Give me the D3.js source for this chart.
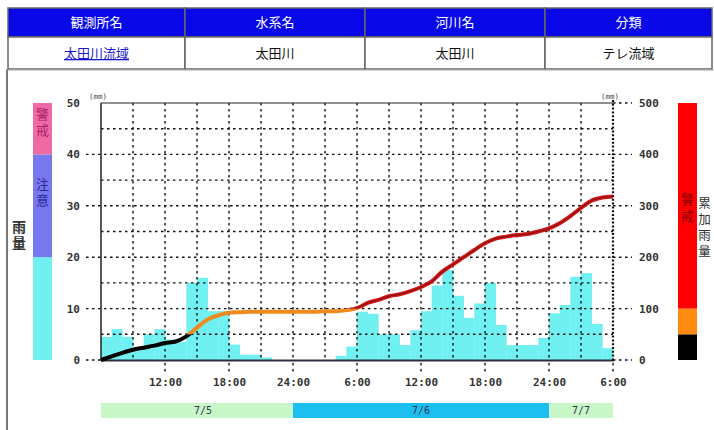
<!DOCTYPE html>
<html><head><meta charset="utf-8">
<script src="https://cdn.jsdelivr.net/npm/d3@7"></script>
<style>body{margin:0;background:#fff}svg{display:block}</style>
</head><body>
<svg id="c" width="714" height="430"></svg>
<script>
// ---- data ----
const headers = ["観測所名","水系名","河川名","分類"];
const rowValues = ["太田川流域","太田川","太田川","テレ流域"];
// hourly rainfall (mm), 7/5 6:00 -> 7/7 6:00
const rain = [4.5,6,4.5,2,5,6,4,3.5,15,16,9.5,9.5,3,1,1,0.5,0,0,0,0,0,0,0.8,2.6,
  9.4,9,5,5,2.9,5.8,9.5,14.5,17.5,12.5,8.2,11,15,6.8,2.9,2.9,2.9,4.3,9.1,10.7,16.2,16.9,7,2.3];
// cumulative rainfall (mm) read at each hour mark
const cumulative = [0,7,14,20,24,28,33,36,46,63,79,87,92,93,94,94,94,94,94,94,94,95,95,97,101,111,117,124,128,134,
  142,153,172,186,200,214,227,236,240,243,245,250,256,266,280,296,310,316,318];
const timeTickHours = [6,12,18,24,30,36,42,48];
const timeTickLabels = ["12:00","18:00","24:00","6:00","12:00","18:00","24:00","6:00"];
const dateLabels = ["7/5","7/6","7/7"];
const dateStartHour = [0,18,42];
const dateEndHour = [18,42,48];
const leftTicks = [0,10,20,30,40,50];
const rightTicks = [0,100,200,300,400,500];
const leftBandBreaks = [0,20,40,50];
const leftBandLabels = ["","注意","警戒"];
const rightBandBreaks = [0,50,100,500];
const rightBandLabels = ["","","警戒"];

// ---- styles ----
const JP = "'Noto Sans CJK JP','Noto Sans',sans-serif";
const NUM = "'DejaVu Sans Mono',monospace";
const leftBandColors = ["#70f0f0","#7777ee","#ee6aa4"];
const leftBandText = ["#333","#2a2a99","#aa2266"];
const rightBandColors = ["#000000","#ff8a10","#ff0000"];
const rightBandText = ["#fff","#fff","#8a0000"];
const lineColors = ["#000000","#ee8a1e","#d41a1a"];

const svg = d3.select("#c");

// ---- header table ----
const colEdges = [8,185,365,545,712];
const hdr = svg.append("g");
headers.forEach((h,i)=>{
  const x0 = colEdges[i], x1 = colEdges[i+1];
  hdr.append("rect").attr("x",x0).attr("y",8).attr("width",x1-x0).attr("height",29)
    .attr("fill","#0808e8").attr("stroke","#666").attr("stroke-width",1.5);
  hdr.append("text").attr("x",(x0+x1)/2).attr("y",27).attr("text-anchor","middle")
    .attr("font-family",JP).attr("font-size",13).attr("fill","#fff").text(h);
  hdr.append("rect").attr("x",x0).attr("y",37).attr("width",x1-x0).attr("height",32)
    .attr("fill","#fff").attr("stroke","#666").attr("stroke-width",1.5);
  const t = hdr.append("text").attr("x",(x0+x1)/2).attr("y",58).attr("text-anchor","middle")
    .attr("font-family",JP).attr("font-size",13).attr("fill", i===0?"#1a1acc":"#111").text(rowValues[i]);
  if(i===0) t.attr("text-decoration","underline");
});
svg.append("line").attr("x1",7).attr("x2",7).attr("y1",69).attr("y2",430).attr("stroke","#777").attr("stroke-width",2);
svg.append("line").attr("x1",7).attr("x2",714).attr("y1",70).attr("y2",70).attr("stroke","#aaa").attr("stroke-width",1);

// ---- scales ----
const x = d3.scaleLinear().domain([0,48]).range([101,613]);
const yL = d3.scaleLinear().domain([0,50]).range([360,103]);
const yR = d3.scaleLinear().domain([0,500]).range([360,103]);

// ---- bars ----
svg.append("g").selectAll("rect").data(rain).join("rect")
  .attr("x",(d,i)=>x(i)).attr("width",(d,i)=>x(i+1)-x(i)+0.3)
  .attr("y",d=>yL(d)).attr("height",d=>yL(0)-yL(d)).attr("fill","#70f0f0");

// ---- grid ----
const grid = svg.append("g").attr("stroke","#111").attr("stroke-width",1.4).attr("stroke-dasharray","2.5,3.5");
d3.range(5,50,5).forEach(v=>{
  const major = v%10===0;
  grid.append("line").attr("x1", major?86:101).attr("x2", 613).attr("y1",yL(v)).attr("y2",yL(v));
});
rightTicks.forEach(v=>{
  grid.append("line").attr("x1",613).attr("x2",632).attr("y1",yR(v)).attr("y2",yR(v));
});
grid.append("line").attr("x1",86).attr("x2",101).attr("y1",yL(0)).attr("y2",yL(0));
d3.range(3,48,3).forEach(h=>{
  grid.append("line").attr("x1",x(h)).attr("x2",x(h)).attr("y1",103).attr("y2",360);
});
timeTickHours.forEach(h=>{
  grid.append("line").attr("x1",x(h)).attr("x2",x(h)).attr("y1",363).attr("y2",372);
});

// frame
svg.append("line").attr("x1",101).attr("x2",613).attr("y1",103).attr("y2",103).attr("stroke","#222").attr("stroke-width",1.2);
svg.append("line").attr("x1",101).attr("x2",101).attr("y1",103).attr("y2",361).attr("stroke","#222").attr("stroke-width",1.5);
svg.append("line").attr("x1",101).attr("x2",614).attr("y1",360.5).attr("y2",360.5).attr("stroke","#2a3040").attr("stroke-width",2);
svg.append("line").attr("x1",613).attr("x2",613).attr("y1",100).attr("y2",362).attr("stroke","#111").attr("stroke-width",2.2).attr("stroke-dasharray","2,1.8");

// ---- cumulative line (coloured by level) ----
const defs = svg.append("defs");
const bandYs = [[yR(50),430],[yR(100),yR(50)],[0,yR(100)]];
bandYs.forEach((b,i)=>{
  defs.append("clipPath").attr("id","clip"+i).append("rect")
    .attr("x",0).attr("width",714).attr("y",b[0]).attr("height",b[1]-b[0]);
});
const line = d3.line().x((d,i)=>x(i)).y(d=>yR(d)).curve(d3.curveMonotoneX);
lineColors.forEach((c,i)=>{
  svg.append("path").datum(cumulative).attr("d",line).attr("fill","none")
    .attr("stroke",c).attr("stroke-width",4).attr("stroke-linejoin","round")
    .attr("clip-path","url(#clip"+i+")");
});
svg.append("path").datum(cumulative).attr("d",line).attr("fill","none")
  .attr("stroke","#990f0f").attr("stroke-width",1.5).attr("clip-path","url(#clip2)");

// ---- axes labels ----
const axL = svg.append("g").attr("transform","translate(80,0)")
  .call(d3.axisLeft(yL).tickValues(leftTicks).tickSize(0).tickPadding(0).tickFormat(d3.format("d")));
const axR = svg.append("g").attr("transform","translate(639,0)")
  .call(d3.axisRight(yR).tickValues(rightTicks).tickSize(0).tickPadding(0).tickFormat(d3.format("d")));
const axB = svg.append("g").attr("transform","translate(0,376)")
  .call(d3.axisBottom(x).tickValues(timeTickHours).tickSize(0).tickPadding(0)
    .tickFormat((d,i)=>timeTickLabels[i]));
[axL,axR,axB].forEach(a=>{
  a.select(".domain").remove();
  a.selectAll("text").attr("font-family",NUM).attr("font-weight","bold")
    .attr("font-size",11).attr("fill","#333");
});
axB.selectAll("text").attr("dy","0.9em");

svg.append("text").attr("x",98).attr("y",99).attr("text-anchor","middle")
  .attr("font-family",NUM).attr("font-size",7.5).attr("fill","#444").text("(mm)");
svg.append("text").attr("x",610).attr("y",99).attr("text-anchor","middle")
  .attr("font-family",NUM).attr("font-size",7.5).attr("fill","#444").text("(mm)");

// ---- date bar ----
const dateColors = ["#c8f8c8","#1cc0f0","#c8f8c8"];
dateLabels.forEach((d,i)=>{
  const x0 = x(dateStartHour[i]), x1 = x(dateEndHour[i]);
  svg.append("rect").attr("x",x0).attr("y",403).attr("width",x1-x0).attr("height",15).attr("fill",dateColors[i]);
  svg.append("text").attr("x",(x0+x1)/2 + (i===0?6:0)).attr("y",414).attr("text-anchor","middle")
    .attr("font-family",NUM).attr("font-size",10).attr("fill","#335").text(d);
});

// ---- level bars ----
function vtext(g, str, cx, cy0, step, size, color, weight){
  const n = [...str].length;
  g.append("text").attr("x",cx).attr("y",cy0 + (n-1)*step/2)
    .attr("text-anchor","middle")
    .style("writing-mode","vertical-rl")
    .style("letter-spacing",(step-size)+"px")
    .attr("font-family",JP).attr("font-size",size)
    .attr("font-weight",weight||"normal").attr("fill",color).text(str);
}
const lb = svg.append("g");
leftBandColors.forEach((c,i)=>{
  lb.append("rect").attr("x",33).attr("width",19)
    .attr("y",yL(leftBandBreaks[i+1])).attr("height",yL(leftBandBreaks[i])-yL(leftBandBreaks[i+1])).attr("fill",c);
  if(leftBandLabels[i]){
    const top = yL(leftBandBreaks[i+1]);
    const yy = i===2 ? top+13 : top+31;
    vtext(lb, leftBandLabels[i], 42.5, yy, 16, 13, leftBandText[i]);
  }
});
vtext(lb,"雨量",19,228,16,14,"#333","bold");

const rb = svg.append("g");
rightBandColors.forEach((c,i)=>{
  rb.append("rect").attr("x",678).attr("width",19)
    .attr("y",yR(rightBandBreaks[i+1])).attr("height",yR(rightBandBreaks[i])-yR(rightBandBreaks[i+1])).attr("fill",c);
  if(rightBandLabels[i]) vtext(rb, rightBandLabels[i], 687.5, 201, 17, 13, rightBandText[i]);
});
vtext(rb,"累加雨量",704.5,205,16,12.5,"#333");
</script>
</body></html>
